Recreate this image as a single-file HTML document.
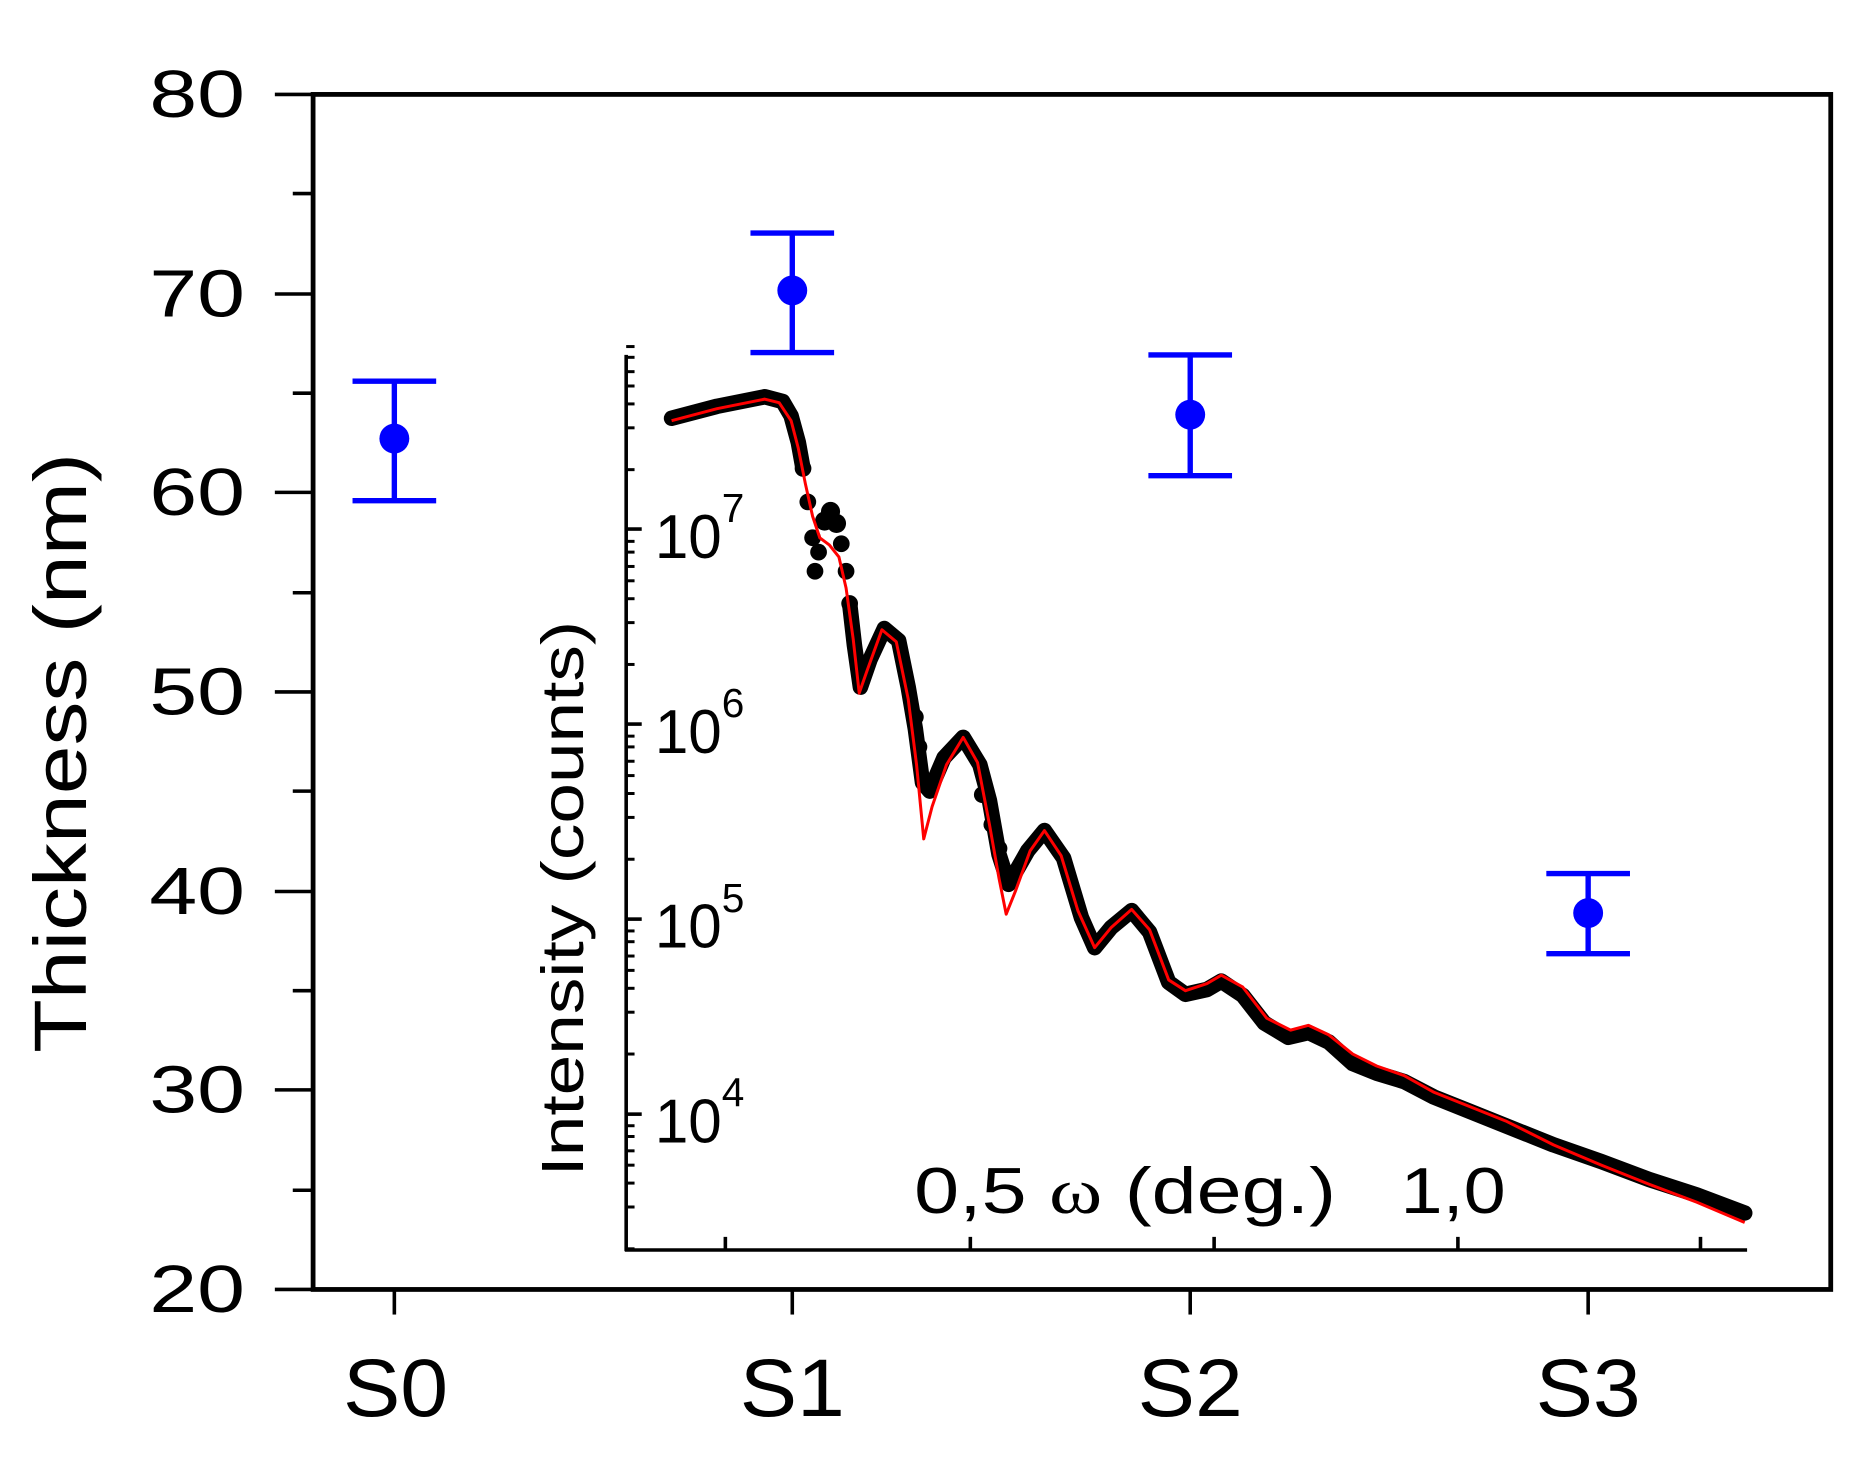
<!DOCTYPE html>
<html><head><meta charset="utf-8"><style>html,body{margin:0;padding:0;background:#fff}svg{display:block}</style></head>
<body>
<svg width="1874" height="1457" viewBox="0 0 1568.2 1219.2" preserveAspectRatio="none" xmlns="http://www.w3.org/2000/svg" font-family="Liberation Sans, Arial, sans-serif">
<rect width="1568.2" height="1219.2" fill="#fff"/>
<rect x="262" y="79" width="1270" height="1000" fill="none" stroke="#000" stroke-width="4"/>
<g stroke="#000" stroke-width="3">
<line x1="230" y1="79" x2="262" y2="79"/><line x1="230" y1="246" x2="262" y2="246"/><line x1="230" y1="412" x2="262" y2="412"/><line x1="230" y1="579" x2="262" y2="579"/><line x1="230" y1="746" x2="262" y2="746"/><line x1="230" y1="912" x2="262" y2="912"/><line x1="230" y1="1079" x2="262" y2="1079"/>
<line x1="245" y1="162" x2="262" y2="162"/><line x1="245" y1="329" x2="262" y2="329"/><line x1="245" y1="496" x2="262" y2="496"/><line x1="245" y1="662" x2="262" y2="662"/><line x1="245" y1="829" x2="262" y2="829"/><line x1="245" y1="996" x2="262" y2="996"/>
<line x1="330" y1="1079" x2="330" y2="1100"/><line x1="663" y1="1079" x2="663" y2="1100"/><line x1="996" y1="1079" x2="996" y2="1100"/><line x1="1329" y1="1079" x2="1329" y2="1100"/>
</g>
<g font-size="56" fill="#000">
<text x="125" y="98" textLength="80" lengthAdjust="spacingAndGlyphs">80</text><text x="125" y="265" textLength="80" lengthAdjust="spacingAndGlyphs">70</text><text x="125" y="431" textLength="80" lengthAdjust="spacingAndGlyphs">60</text><text x="125" y="598" textLength="80" lengthAdjust="spacingAndGlyphs">50</text><text x="125" y="765" textLength="80" lengthAdjust="spacingAndGlyphs">40</text><text x="125" y="931" textLength="80" lengthAdjust="spacingAndGlyphs">30</text><text x="125" y="1098" textLength="80" lengthAdjust="spacingAndGlyphs">20</text>
</g>
<g font-size="68" fill="#000">
<text x="287" y="1185" textLength="88" lengthAdjust="spacingAndGlyphs">S0</text><text x="619" y="1185" textLength="88" lengthAdjust="spacingAndGlyphs">S1</text><text x="952" y="1185" textLength="88" lengthAdjust="spacingAndGlyphs">S2</text><text x="1285" y="1185" textLength="88" lengthAdjust="spacingAndGlyphs">S3</text>
</g>
<text transform="translate(72,630) rotate(-90)" font-size="62" text-anchor="middle" textLength="502" lengthAdjust="spacingAndGlyphs">Thickness (nm)</text>
<g stroke="#0000ff" stroke-width="4.5" fill="#0000ff">
<line x1="330" y1="319" x2="330" y2="419"/><line x1="295" y1="319" x2="365" y2="319"/><line x1="295" y1="419" x2="365" y2="419"/><circle cx="330" cy="367" r="12.5" stroke="none"/>
<line x1="663" y1="195" x2="663" y2="295"/><line x1="628" y1="195" x2="698" y2="195"/><line x1="628" y1="295" x2="698" y2="295"/><circle cx="663" cy="243" r="12.5" stroke="none"/>
<line x1="996" y1="297" x2="996" y2="398"/><line x1="961" y1="297" x2="1031" y2="297"/><line x1="961" y1="398" x2="1031" y2="398"/><circle cx="996" cy="347" r="12.5" stroke="none"/>
<line x1="1329" y1="731" x2="1329" y2="798"/><line x1="1294" y1="731" x2="1364" y2="731"/><line x1="1294" y1="798" x2="1364" y2="798"/><circle cx="1329" cy="764" r="12.5" stroke="none"/>
</g>
<g stroke="#000" stroke-width="3">
<line x1="524" y1="297" x2="524" y2="1047"/><line x1="523" y1="1046" x2="1462" y2="1046"/>
<line x1="524" y1="442.7" x2="537" y2="442.7"/><line x1="524" y1="605.9" x2="537" y2="605.9"/><line x1="524" y1="769.1" x2="537" y2="769.1"/><line x1="524" y1="932.3" x2="537" y2="932.3"/>
<line x1="607" y1="1046" x2="607" y2="1035"/><line x1="812" y1="1046" x2="812" y2="1035"/><line x1="1016" y1="1046" x2="1016" y2="1035"/><line x1="1220" y1="1046" x2="1220" y2="1035"/><line x1="1423" y1="1046" x2="1423" y2="1035"/>
</g>
<g stroke="#000" stroke-width="2.5">
<line x1="524" y1="290" x2="531" y2="290"/><line x1="524" y1="299" x2="531" y2="299"/><line x1="524" y1="311" x2="531" y2="311"/><line x1="524" y1="323" x2="531" y2="323"/><line x1="524" y1="338" x2="531" y2="338"/><line x1="524" y1="358" x2="531" y2="358"/><line x1="524" y1="393" x2="531" y2="393"/>
<line x1="524" y1="453" x2="531" y2="453"/><line x1="524" y1="462" x2="531" y2="462"/><line x1="524" y1="474" x2="531" y2="474"/><line x1="524" y1="486" x2="531" y2="486"/><line x1="524" y1="501" x2="531" y2="501"/><line x1="524" y1="521" x2="531" y2="521"/><line x1="524" y1="556" x2="531" y2="556"/>
<line x1="524" y1="616" x2="531" y2="616"/><line x1="524" y1="625" x2="531" y2="625"/><line x1="524" y1="637" x2="531" y2="637"/><line x1="524" y1="649" x2="531" y2="649"/><line x1="524" y1="664" x2="531" y2="664"/><line x1="524" y1="684" x2="531" y2="684"/><line x1="524" y1="719" x2="531" y2="719"/>
<line x1="524" y1="779" x2="531" y2="779"/><line x1="524" y1="788" x2="531" y2="788"/><line x1="524" y1="800" x2="531" y2="800"/><line x1="524" y1="812" x2="531" y2="812"/><line x1="524" y1="827" x2="531" y2="827"/><line x1="524" y1="847" x2="531" y2="847"/><line x1="524" y1="882" x2="531" y2="882"/>
<line x1="524" y1="942" x2="531" y2="942"/><line x1="524" y1="951" x2="531" y2="951"/><line x1="524" y1="963" x2="531" y2="963"/><line x1="524" y1="975" x2="531" y2="975"/><line x1="524" y1="990" x2="531" y2="990"/><line x1="524" y1="1010" x2="531" y2="1010"/><line x1="524" y1="1045" x2="531" y2="1045"/>
</g>
<g fill="#000">
<text x="548" y="467" font-size="52" textLength="56" lengthAdjust="spacingAndGlyphs">10</text><text x="604" y="437" font-size="34">7</text>
<text x="548" y="630" font-size="52" textLength="56" lengthAdjust="spacingAndGlyphs">10</text><text x="604" y="600" font-size="34">6</text>
<text x="548" y="793" font-size="52" textLength="56" lengthAdjust="spacingAndGlyphs">10</text><text x="604" y="763" font-size="34">5</text>
<text x="548" y="956" font-size="52" textLength="56" lengthAdjust="spacingAndGlyphs">10</text><text x="604" y="926" font-size="34">4</text>
</g>
<text transform="translate(488,752) rotate(-90)" font-size="50" text-anchor="middle" textLength="465" lengthAdjust="spacingAndGlyphs">Intensity (counts)</text>
<text x="765" y="1015" font-size="54" textLength="353" lengthAdjust="spacingAndGlyphs">0,5 <tspan font-family="Liberation Serif, serif">ω</tspan> (deg.)</text>
<text x="1172" y="1015" font-size="54" textLength="88" lengthAdjust="spacingAndGlyphs">1,0</text>
<polyline fill="none" stroke="#000" stroke-width="13" stroke-linejoin="round" stroke-linecap="round" points="562,350 600,340 640,332 655,336 662,348 668,370 672,392"/>
<g fill="#000">
<circle cx="672" cy="392" r="7"/><circle cx="676" cy="420" r="7"/><circle cx="680" cy="450" r="7"/><circle cx="682" cy="478" r="7"/><circle cx="685" cy="462" r="7"/><circle cx="690" cy="436" r="8"/><circle cx="695" cy="428" r="8"/><circle cx="700" cy="438" r="8"/><circle cx="704" cy="455" r="7"/><circle cx="708" cy="478" r="7"/><circle cx="711" cy="505" r="7"/><circle cx="766" cy="600" r="7"/><circle cx="769" cy="625" r="7"/><circle cx="822" cy="665" r="7"/><circle cx="830" cy="690" r="7"/><circle cx="836" cy="710" r="7"/>
</g>
<polyline fill="none" stroke="#000" stroke-width="13" stroke-linejoin="round" stroke-linecap="round" points="711,505 715,540 720,575 728,552 740,526 752,536 760,575 766,610 772,655 778,662 790,634 806,617 820,640 828,670 836,715 844,740 860,712 874,695 890,718 905,768 916,793 930,776 947,762 962,780 978,822 992,832 1010,828 1022,821 1040,833 1058,856 1078,868 1095,864 1112,872 1132,890 1152,898 1175,905 1200,918 1230,930 1260,942 1300,958 1340,972 1380,987 1420,1000 1460,1015"/>
<polyline fill="none" stroke="#ff0000" stroke-width="2.5" stroke-linejoin="round" points="562,352 600,342 640,334 652,337 662,352 668,375 674,405 680,432 686,450 694,456 702,466 708,492 714,535 719,580 726,560 738,527 750,537 760,585 767,640 773,702 780,675 792,640 806,617 818,638 828,690 836,735 842,765 850,745 862,712 874,695 888,716 902,762 916,793 930,776 947,761 962,778 978,820 992,829 1010,823 1022,816 1040,826 1060,852 1080,862 1095,858 1112,866 1132,882 1152,892 1175,900 1200,914 1230,926 1260,938 1300,958 1340,975 1380,991 1420,1006 1460,1023"/>
</svg>
</body></html>
